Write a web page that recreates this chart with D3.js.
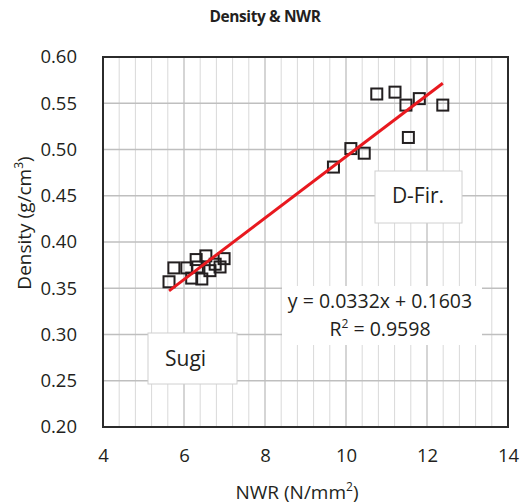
<!DOCTYPE html>
<html>
<head>
  <meta charset="utf-8" />
  <script src="https://d3js.org/d3.v7.min.js"></script>
  <style>
    body { margin: 0; background: #fff; }
    svg text { font-family: "Open Sans", "Noto Sans", sans-serif; fill: #231f20; }
    .grid-minor { stroke: #d9d9d9; stroke-width: 1; }
    .grid-major { stroke: #bfbfbf; stroke-width: 1.3; }
  </style>
</head>
<body>
<svg id="chart" width="524" height="504"></svg>
<script>
  // values
  const sugiNWR     = [5.63, 5.75, 6.07, 6.19, 6.30, 6.33, 6.44, 6.54, 6.64, 6.77, 6.89, 6.99];
  const sugiDensity = [0.357, 0.372, 0.372, 0.361, 0.381, 0.373, 0.360, 0.385, 0.369, 0.376, 0.373, 0.382];
  const firNWR      = [9.69, 10.12, 10.45, 10.76, 11.21, 11.48, 11.54, 11.81, 12.39];
  const firDensity  = [0.481, 0.501, 0.496, 0.560, 0.562, 0.548, 0.513, 0.555, 0.548];
  const xTicks = [4, 6, 8, 10, 12, 14];
  const yTicks = [0.20, 0.25, 0.30, 0.35, 0.40, 0.45, 0.50, 0.55, 0.60];
  const slope = 0.0332, intercept = 0.1603, r2 = 0.9598;

  const svg = d3.select("#chart");
  const pL = 103, pR = 508, pT = 57, pB = 427;

  const x = d3.scaleLinear().domain([4, 14]).range([pL, pR]);
  const y = d3.scaleLinear().domain([0.20, 0.60]).range([pB, pT]);

  // gridlines
  const minorX = d3.range(4, 14.001, 0.4).filter(v => Math.abs(v / 2 - Math.round(v / 2)) > 0.01);
  svg.append("g").selectAll("line").data(minorX).join("line")
    .attr("class", "grid-minor")
    .attr("x1", d => x(d)).attr("x2", d => x(d))
    .attr("y1", pT).attr("y2", pB);
  svg.append("g").selectAll("line").data(xTicks.slice(1, -1)).join("line")
    .attr("class", "grid-major")
    .attr("x1", d => x(d)).attr("x2", d => x(d))
    .attr("y1", pT).attr("y2", pB);
  svg.append("g").selectAll("line").data(yTicks.slice(1, -1)).join("line")
    .attr("class", "grid-major")
    .attr("x1", pL).attr("x2", pR)
    .attr("y1", d => y(d)).attr("y2", d => y(d));

  // text boxes (drawn under the markers)
  svg.append("rect").attr("x", 148).attr("y", 333).attr("width", 89).attr("height", 51)
    .attr("fill", "#fff").attr("stroke", "#d0d0d0");
  svg.append("text").attr("x", 165).attr("y", 366).attr("font-size", 21).text("Sugi");

  svg.append("rect").attr("x", 375).attr("y", 171).attr("width", 87).attr("height", 52)
    .attr("fill", "#fff").attr("stroke", "#d0d0d0");
  svg.append("text").attr("x", 418).attr("y", 203).attr("font-size", 21)
    .attr("text-anchor", "middle").text("D-Fir.");

  svg.append("rect").attr("x", 282).attr("y", 286).attr("width", 200).attr("height", 59)
    .attr("fill", "#fff");
  svg.append("text").attr("x", 380).attr("y", 308).attr("font-size", 19.5)
    .attr("text-anchor", "middle")
    .text("y = " + slope.toFixed(4) + "x + " + intercept.toFixed(4));
  const r2t = svg.append("text").attr("x", 380).attr("y", 336).attr("font-size", 19.5)
    .attr("text-anchor", "middle");
  r2t.append("tspan").text("R");
  r2t.append("tspan").attr("font-size", 12).attr("dy", -8).text("2");
  r2t.append("tspan").attr("dy", 8).text(" = " + r2.toFixed(4));

  // plot frame
  svg.append("rect").attr("x", pL).attr("y", pT)
    .attr("width", pR - pL).attr("height", pB - pT)
    .attr("fill", "none").attr("stroke", "#2b2b2b").attr("stroke-width", 2);

  // markers
  const pts = sugiNWR.map((v, i) => [v, sugiDensity[i]])
    .concat(firNWR.map((v, i) => [v, firDensity[i]]));
  svg.append("g").selectAll("rect").data(pts).join("rect")
    .attr("x", d => x(d[0]) - 5.5).attr("y", d => y(d[1]) - 5.5)
    .attr("width", 11).attr("height", 11)
    .attr("fill", "none").attr("stroke", "#231f20").attr("stroke-width", 2);

  // trendline over the data range
  const xs = pts.map(d => d[0]);
  const x0 = d3.min(xs), x1 = d3.max(xs);
  svg.append("line")
    .attr("x1", x(x0)).attr("y1", y(slope * x0 + intercept))
    .attr("x2", x(x1)).attr("y2", y(slope * x1 + intercept))
    .attr("stroke", "#e8191f").attr("stroke-width", 3);

  // axes labels
  const yAxis = svg.append("g").attr("transform", `translate(${pL},0)`)
    .call(d3.axisLeft(y).tickValues(yTicks).tickFormat(d3.format(".2f")).tickSize(0).tickPadding(26));
  yAxis.select(".domain").remove();
  yAxis.selectAll("text").attr("font-size", 18.5);

  const xAxis = svg.append("g").attr("transform", `translate(0,${pB})`)
    .call(d3.axisBottom(x).tickValues(xTicks).tickFormat(d3.format("d")).tickSize(0).tickPadding(22));
  xAxis.select(".domain").remove();
  xAxis.selectAll("text").attr("font-size", 18.5);

  // titles
  svg.append("text").attr("x", 265).attr("y", 22).attr("text-anchor", "middle")
    .attr("font-size", 15.5).attr("font-weight", "bold").attr("letter-spacing", -0.4)
    .text("Density & NWR");

  const xt = svg.append("text").attr("x", 297).attr("y", 499).attr("text-anchor", "middle")
    .attr("font-size", 19);
  xt.append("tspan").text("NWR (N/mm");
  xt.append("tspan").attr("font-size", 12).attr("dy", -8).text("2");
  xt.append("tspan").attr("dy", 8).text(")");

  const yt = svg.append("text").attr("transform", "translate(31,223) rotate(-90)")
    .attr("text-anchor", "middle").attr("font-size", 19);
  yt.append("tspan").text("Density (g/cm");
  yt.append("tspan").attr("font-size", 12).attr("dy", -8).text("3");
  yt.append("tspan").attr("dy", 8).text(")");
</script>
</body>
</html>
